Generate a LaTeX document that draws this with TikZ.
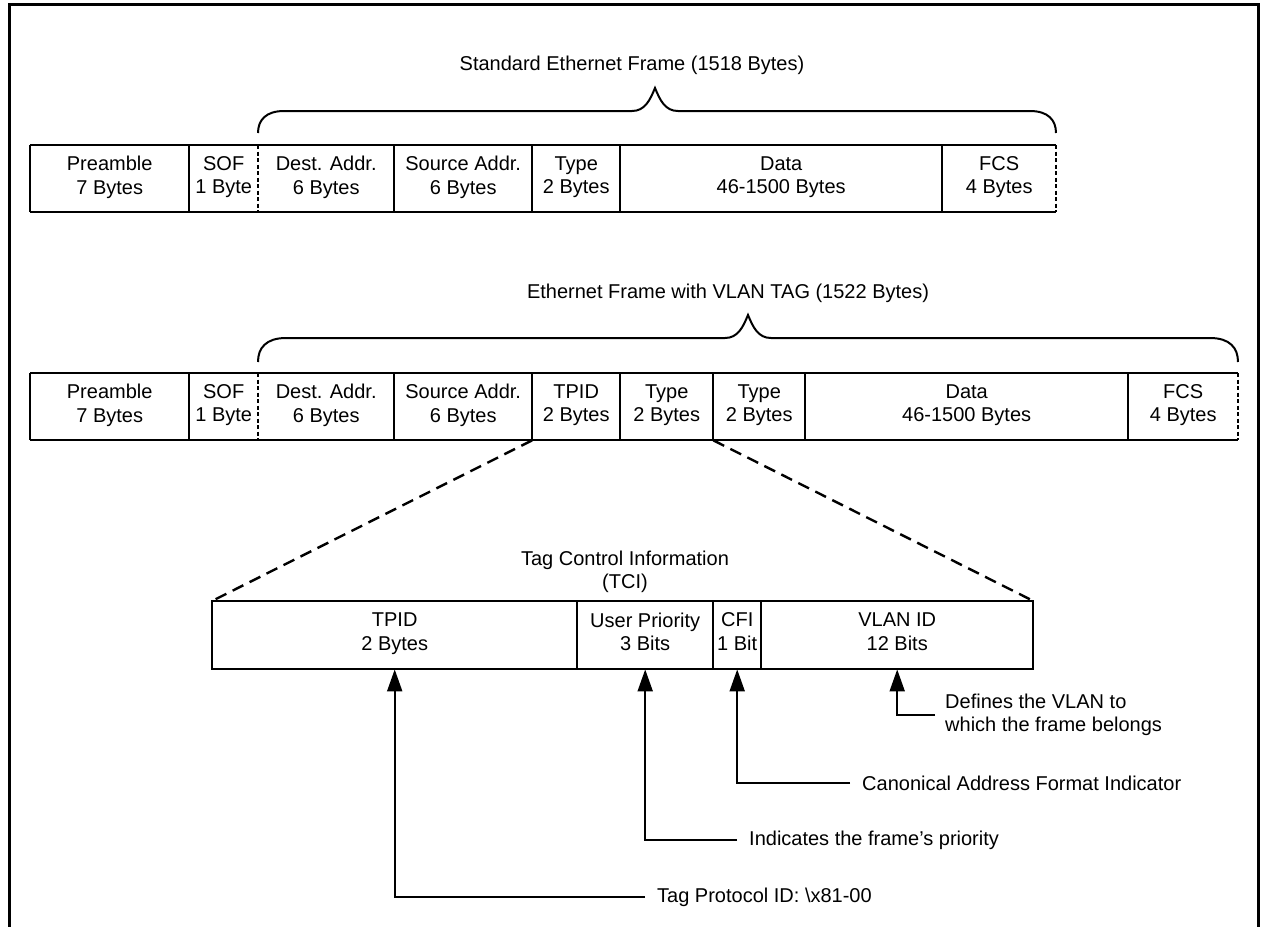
\documentclass[tikz,border=0pt]{standalone}
\usepackage{fontspec}
\setmainfont{Liberation Sans}
\usetikzlibrary{arrows.meta}
\newcommand\myfs{\fontsize{20}{23.5}\selectfont}
\begin{document}
\begin{tikzpicture}[x=1pt,y=-1pt,
 field/.style={inner sep=0pt, minimum height=67pt, anchor=north west, align=center, font=\myfs,
   execute at begin node=\strut, execute at end node=\strut},
 edge/.style={line width=2pt},
 dedge/.style={line width=2pt, dash pattern=on 4pt off 2.5pt},
 tciline/.style={line width=2.4pt, dash pattern=on 12pt off 7pt},
 bracel/.style={line width=2pt},
 pointer/.style={line width=2pt, -{Triangle[length=22pt,width=15pt]}},
 lbl/.style={inner sep=0pt, anchor=west, align=left, font=\myfs},
 title/.style={inner sep=0pt, align=center, font=\myfs}]
\useasboundingbox (0,0) rectangle (1262,927);
\fill[white] (0,0) rectangle (1262,927);
\draw[line width=3pt] (9,927) -- (9,4) -- (1258,4) -- (1258,927);

% ---------- Row 1 ----------
\node[title] (t1) at (632,65) {Standard Ethernet Frame (1518 Bytes)};
\node[field, minimum width=159pt] (a1) at (30,145) {Preamble\\7 Bytes};
\node[field, minimum width=69pt] (a2) at (189,145) {SOF\\1 Byte};
\node[field, minimum width=136pt] (a3) at (258,145) {Dest. Addr.\\6 Bytes};
\node[field, minimum width=138pt] (a4) at (394,145) {Source Addr.\\6 Bytes};
\node[field, minimum width=88pt] (a5) at (532,145) {Type\\2 Bytes};
\node[field, minimum width=322pt] (a6) at (620,145) {Data\\46-1500 Bytes};
\node[field, minimum width=114pt] (a7) at (942,145) {FCS\\4 Bytes};
\draw[edge] (a1.north west) -- (a7.north east);
\draw[edge] (a1.south west) -- (a7.south east);
\draw[edge] (a1.north west) -- (a1.south west);
\foreach \n in {a1,a3,a4,a5,a6} \draw[edge] (\n.north east) -- (\n.south east);
\foreach \n in {a2,a7} \draw[dedge] (\n.north east) -- (\n.south east);
\draw[bracel] (258,133) .. controls (258,120) and (266,111) .. (284,111) -- (632,111)
  .. controls (645,111) and (650,100) .. (655,88)
  .. controls (660,100) and (665,111) .. (678,111) -- (1030,111)
  .. controls (1048,111) and (1056,120) .. (1056,133);

% ---------- Row 2 ----------
\node[title] (t2) at (728,293) {Ethernet Frame with VLAN TAG (1522 Bytes)};
\node[field, minimum width=159pt] (b1) at (30,373) {Preamble\\7 Bytes};
\node[field, minimum width=69pt] (b2) at (189,373) {SOF\\1 Byte};
\node[field, minimum width=136pt] (b3) at (258,373) {Dest. Addr.\\6 Bytes};
\node[field, minimum width=138pt] (b4) at (394,373) {Source Addr.\\6 Bytes};
\node[field, minimum width=88pt] (b5) at (532,373) {TPID\\2 Bytes};
\node[field, minimum width=93pt] (b6) at (620,373) {Type\\2 Bytes};
\node[field, minimum width=92pt] (b7) at (713,373) {Type\\2 Bytes};
\node[field, minimum width=323pt] (b8) at (805,373) {Data\\46-1500 Bytes};
\node[field, minimum width=110pt] (b9) at (1128,373) {FCS\\4 Bytes};
\draw[edge] (b1.north west) -- (b9.north east);
\draw[edge] (b1.south west) -- (b9.south east);
\draw[edge] (b1.north west) -- (b1.south west);
\foreach \n in {b1,b3,b4,b5,b6,b7,b8} \draw[edge] (\n.north east) -- (\n.south east);
\foreach \n in {b2,b9} \draw[dedge] (\n.north east) -- (\n.south east);
\draw[bracel] (258,362) .. controls (258,348) and (266,338) .. (286,338) -- (725,338)
  .. controls (738,338) and (743,327) .. (748,315)
  .. controls (753,327) and (758,338) .. (771,338) -- (1210,338)
  .. controls (1230,338) and (1238,348) .. (1238,362);

% ---------- TCI ----------
\node[title] (tci) at (625,572) {Tag Control Information\\(TCI)};
\node[field, minimum width=365pt, minimum height=68pt] (c1) at (212,601) {TPID\\2 Bytes};
\node[field, minimum width=136pt, minimum height=68pt] (c2) at (577,601) {User Priority\\3 Bits};
\node[field, minimum width=48pt, minimum height=68pt] (c3) at (713,601) {CFI\\1 Bit};
\node[field, minimum width=272pt, minimum height=68pt] (c4) at (761,601) {VLAN ID\\12 Bits};
\draw[edge] (c1.north west) rectangle (c4.south east);
\foreach \n in {c1,c2,c3} \draw[edge] (\n.north east) -- (\n.south east);
\draw[tciline] (b5.south west) -- (c1.north west);
\draw[tciline] (b6.south east) -- (c4.north east);

% ---------- Labels ----------
\node[lbl] (l4) at (945,715) {Defines the VLAN to\\which the frame belongs};
\node[lbl] (l3) at (862,783) {Canonical Address Format Indicator};
\node[lbl] (l2) at (749,840) {Indicates the frame’s priority};
\node[lbl] (l1) at (657,897) {Tag Protocol ID: \textbackslash x81-00};
\draw[pointer] ([xshift=-10pt]l4.west) -| (c4.south);
\draw[pointer] ([xshift=-12pt]l3.west) -| (c3.south);
\draw[pointer] ([xshift=-12pt]l2.west) -| (c2.south);
\draw[pointer] ([xshift=-12pt]l1.west) -| (c1.south);
\end{tikzpicture}
\end{document}
